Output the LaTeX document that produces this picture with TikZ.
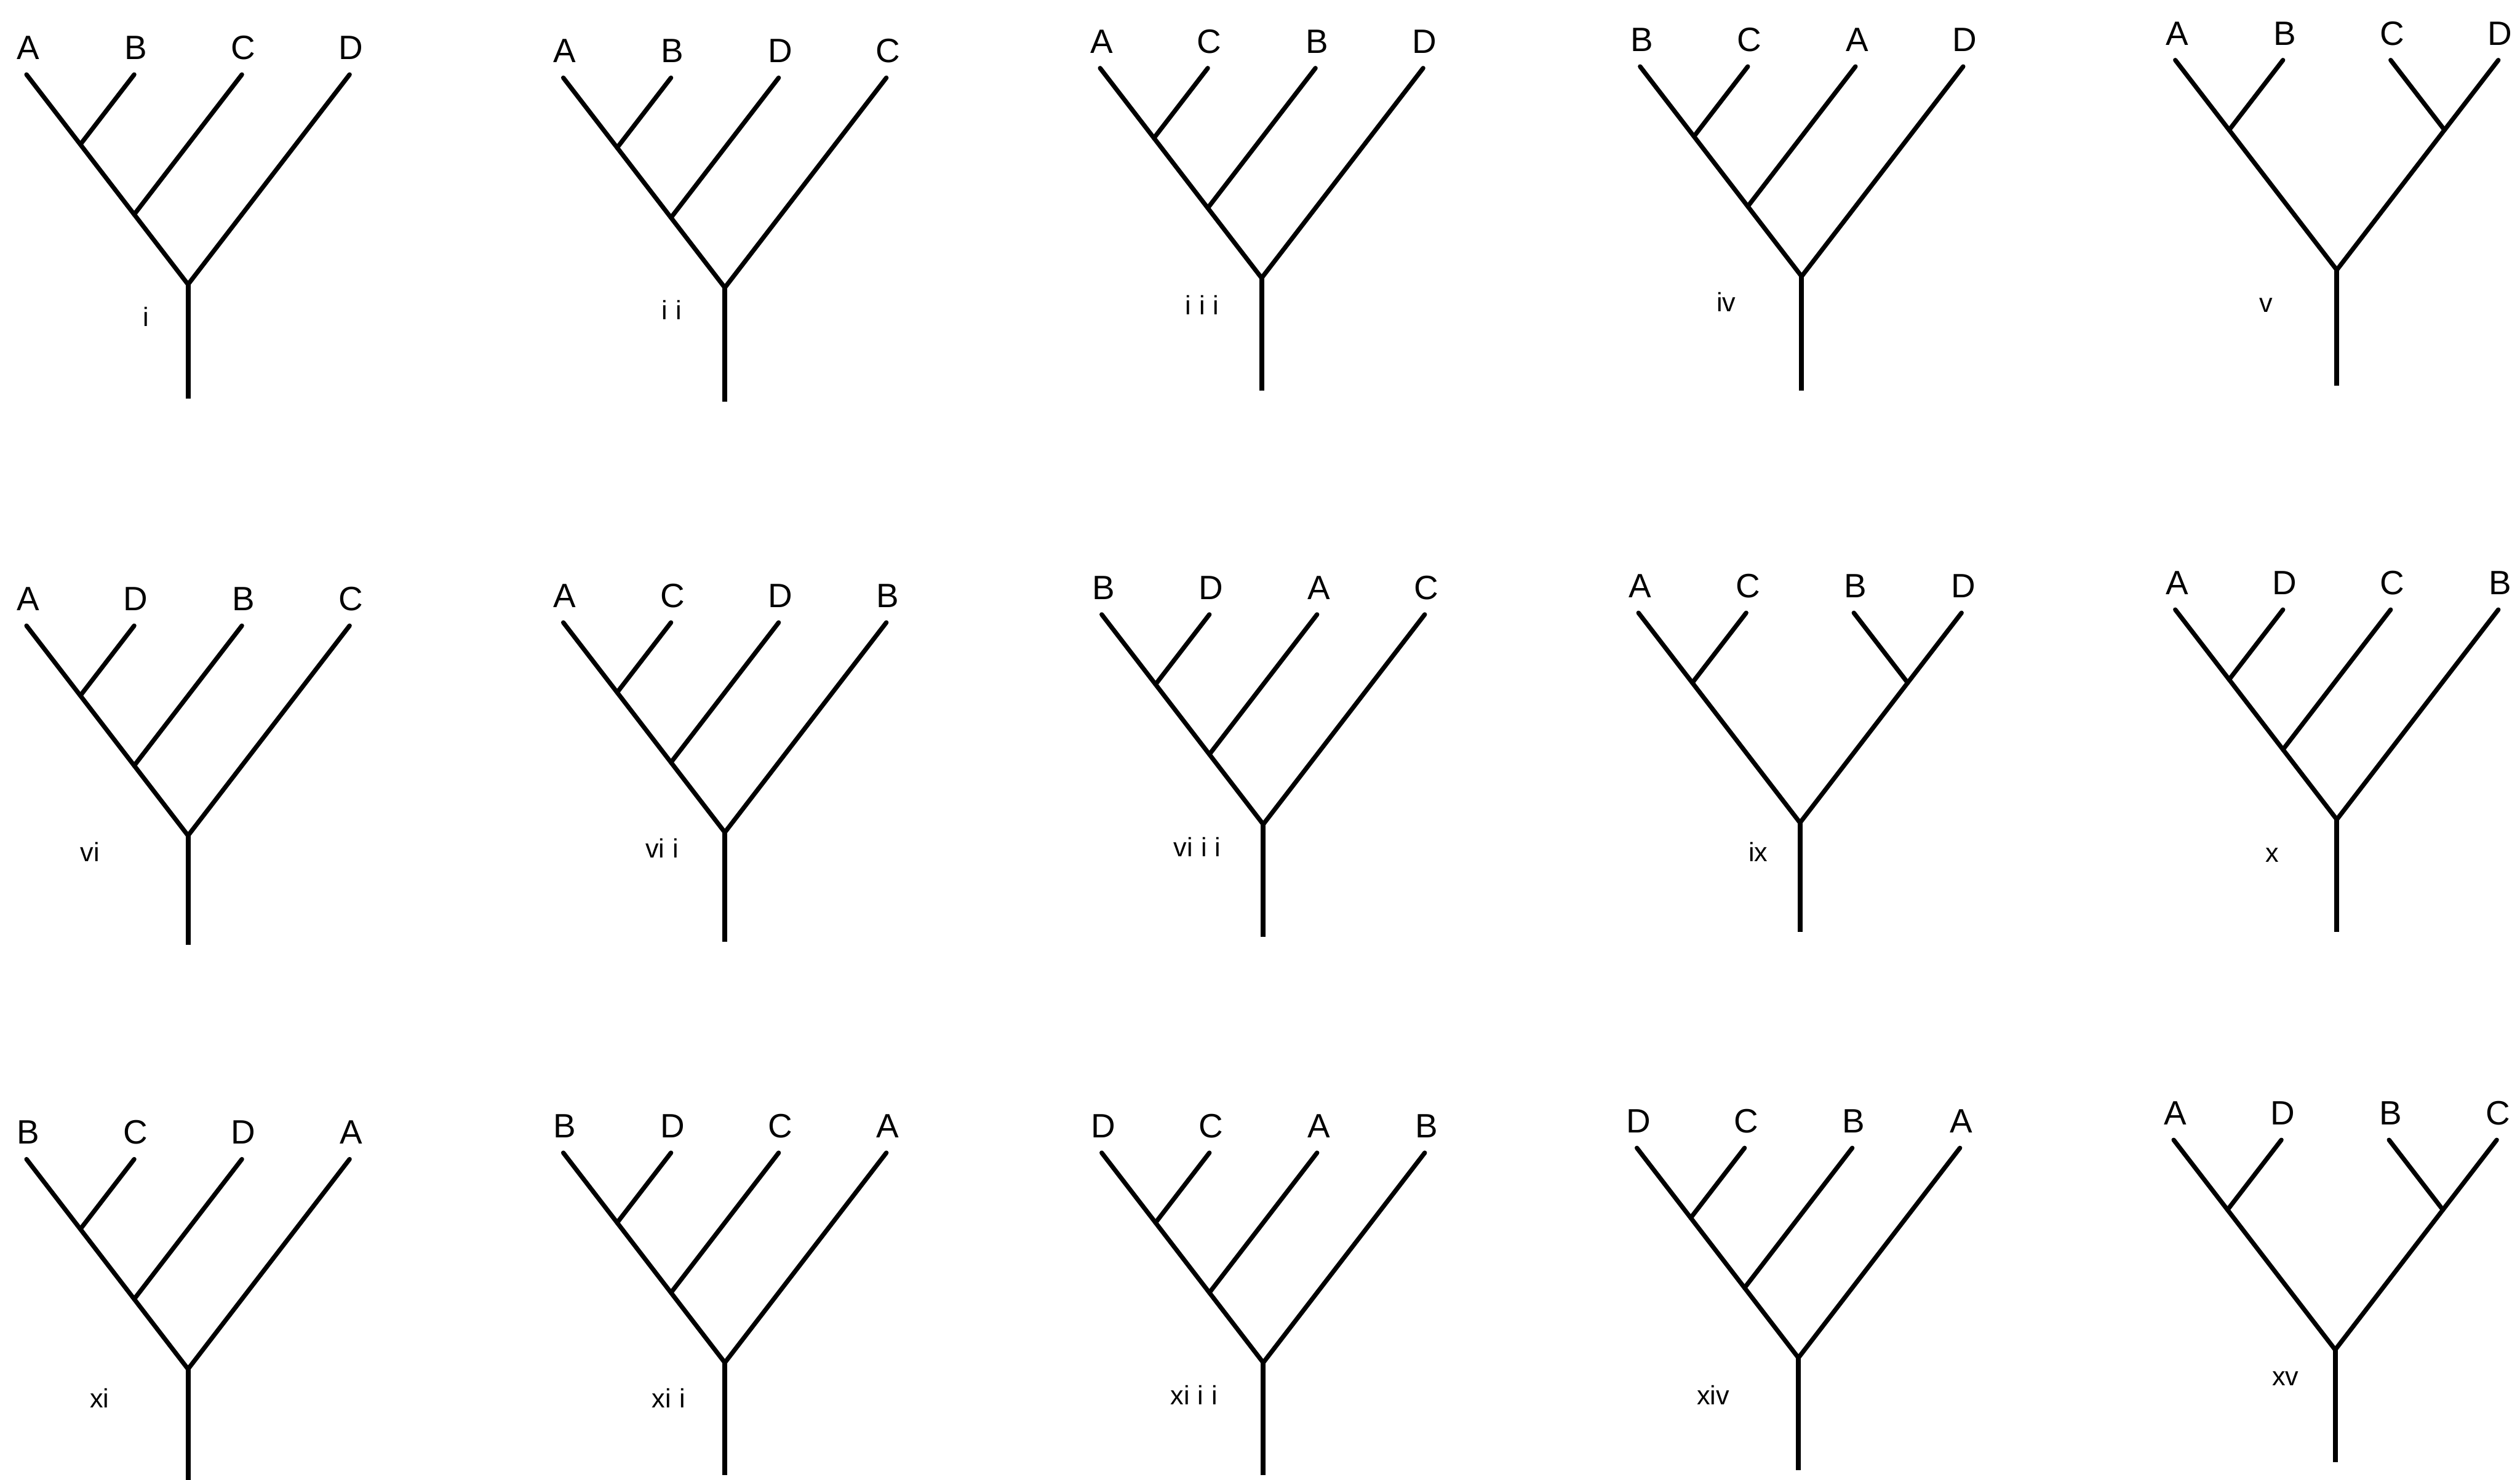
\documentclass[tikz,border=0pt]{standalone}
\usepackage{fontspec}
\setmainfont{Liberation Sans}
\tikzset{
  branch/.style={line width=2.8pt, line cap=round, line join=round},
  stem/.style={line width=3.1pt, line cap=butt},
  leaflabel/.style={font=\fontsize{21}{23}\selectfont, inner sep=0pt, anchor=base},
  numlabel/.style={font=\fontsize{16.5}{18}\selectfont, inner sep=0pt},
}
% #1 id, #2 root x, #3 root y, #4 stem bottom y, #5-#8 leaf letters
\newcommand\treecoords[8]{%
  \begin{scope}[shift={(#2,#3)}]
    \coordinate (#1r) at (0,0);
    \coordinate (#1b) at (0,{#4-#3});
    \coordinate (#1t0) at (-100.5,-130.6);
    \coordinate (#1t1) at (-33.5,-130.6);
    \coordinate (#1t2) at (33.5,-130.6);
    \coordinate (#1t3) at (100.5,-130.6);
    \coordinate (#1n1) at (-67,-87.1);
    \coordinate (#1n2) at (-33.5,-43.55);
    \coordinate (#1n3) at (67,-87.1);
    \node[leaflabel] (#1L0) at (-99.5,-140) {#5};
    \node[leaflabel] (#1L1) at (-32.5,-140) {#6};
    \node[leaflabel] (#1L2) at (34.5,-140) {#7};
    \node[leaflabel] (#1L3) at (101.5,-140) {#8};
  \end{scope}%
  \draw[stem] (#1r) -- (#1b);
}
\newcommand\cattree[8]{%
  \treecoords{#1}{#2}{#3}{#4}{#5}{#6}{#7}{#8}%
  \draw[branch] (#1t0) -- (#1n1) -- (#1n2) -- (#1r) -- (#1t3);
  \draw[branch] (#1t1) -- (#1n1);
  \draw[branch] (#1t2) -- (#1n2);
}
\newcommand\baltree[8]{%
  \treecoords{#1}{#2}{#3}{#4}{#5}{#6}{#7}{#8}%
  \draw[branch] (#1t0) -- (#1n1) -- (#1r) -- (#1n3) -- (#1t3);
  \draw[branch] (#1t1) -- (#1n1);
  \draw[branch] (#1t2) -- (#1n3);
}
\begin{document}
\begin{tikzpicture}[x=1pt,y=-1pt]
\useasboundingbox (0,0) rectangle (1568,921);
% row 1
\cattree{a}{117}{177}{248}{A}{B}{C}{D}
\cattree{b}{451}{179}{250}{A}{B}{D}{C}
\cattree{c}{785}{173}{243}{A}{C}{B}{D}
\cattree{d}{1121}{172}{243}{B}{C}{A}{D}
\baltree{e}{1454}{168}{240}{A}{B}{C}{D}
% row 2
\cattree{f}{117}{520}{588}{A}{D}{B}{C}
\cattree{g}{451}{518}{586}{A}{C}{D}{B}
\cattree{h}{786}{513}{583}{B}{D}{A}{C}
\baltree{k}{1120}{512}{580}{A}{C}{B}{D}
\cattree{m}{1454}{510}{580}{A}{D}{C}{B}
% row 3
\cattree{n}{117}{852}{921}{B}{C}{D}{A}
\cattree{p}{451}{848}{918}{B}{D}{C}{A}
\cattree{q}{786}{848}{918}{D}{C}{A}{B}
\cattree{s}{1119}{845}{915}{D}{C}{B}{A}
\baltree{u}{1453}{840}{910}{A}{D}{B}{C}
% numerals
\node[numlabel] (na) at (91,197) {i};
\node[numlabel] (nb) at (418,193) {i\kern5pt i};
\node[numlabel] (nc) at (748,190) {i\kern5pt i\kern5pt i};
\node[numlabel] (nd) at (1074,188) {iv};
\node[numlabel] (ne) at (1410,190) {v};
\node[numlabel] (nf) at (56,530) {vi};
\node[numlabel] (ng) at (412,528) {vi\kern5pt i};
\node[numlabel] (nh) at (745,527) {vi\kern5pt i\kern5pt i};
\node[numlabel] (nk) at (1094,530) {ix};
\node[numlabel] (nm) at (1414,532) {x};
\node[numlabel] (nn) at (62,870) {xi};
\node[numlabel] (np) at (416,870) {xi\kern5pt i};
\node[numlabel] (nq) at (743,868) {xi\kern5pt i\kern5pt i};
\node[numlabel] (ns) at (1066,868) {xiv};
\node[numlabel] (nu) at (1422,858) {xv};
\end{tikzpicture}
\end{document}
